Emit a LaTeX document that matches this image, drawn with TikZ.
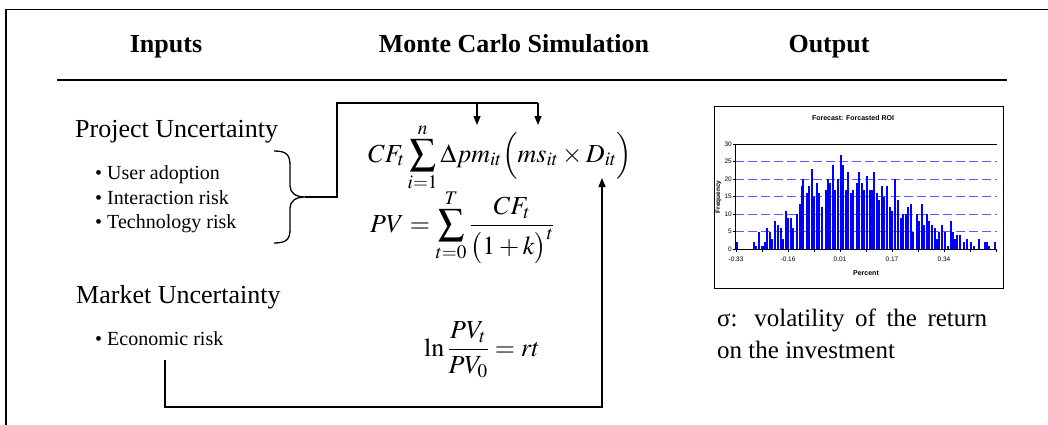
\documentclass[tikz,border=0pt]{standalone}
\usepackage{mathptmx}
\usepackage{fontspec}
\setmainfont{Liberation Serif}
\newfontfamily\arialf{Liberation Sans}
\usetikzlibrary{arrows.meta}
\definecolor{barblue}{RGB}{0,0,255}
\definecolor{gridblue}{RGB}{90,90,255}
\tikzset{
  frame/.style={line width=1.3pt},
  conn/.style={line width=1.4pt},
  arr/.style={conn, -{Triangle[length=9pt,width=7pt]}},
  lbl/.style={font=\fontsize{26}{30}\selectfont, inner sep=0pt},
  item/.style={font=\fontsize{20}{24}\selectfont, inner sep=0pt, anchor=base west},
  head/.style={font=\fontsize{26}{30}\selectfont\bfseries, inner sep=0pt, anchor=base},
  outtxt/.style={font=\fontsize{25}{32}\selectfont, inner sep=0pt, anchor=base west},
  chartlbl/.style={font=\arialf\fontsize{6.5}{7}\selectfont, inner sep=0pt},
  chartbold/.style={font=\arialf\bfseries\fontsize{7}{8}\selectfont, inner sep=0pt},
  grid/.style={gridblue, line width=0.9pt, dash pattern=on 9pt off 4pt},
}
\begin{document}
\begin{tikzpicture}[x=1pt,y=-1pt]
\useasboundingbox (0,0) rectangle (1048,425);
% frame
\draw[frame] (6,425) -- (6,9.5) -- (1048,9.5);
\draw[frame] (57,80) -- (1007,80);
% headers
\node[head] (hin) at (166,53) {Inputs};
\node[head] (hmc) at (514,53) {Monte Carlo Simulation};
\node[head] (hout) at (829,53) {Output};
% inputs
\node[lbl, anchor=base west] (pu) at (75,137) {Project Uncertainty};
\node[item] (i1) at (95,179) {•\ User adoption};
\node[item] (i2) at (95,204) {•\ Interaction risk};
\node[item] (i3) at (95,228) {•\ Technology risk};
\node[lbl, anchor=base west] (mu) at (76,303) {Market Uncertainty};
\node[item] (i4) at (95,345) {•\ Economic risk};
% brace
\draw[line width=1.3pt] (274,151) .. controls (287,151) and (290,155) .. (290,166)
  -- (290,186) .. controls (290,193) and (296,197) .. (305,197)
  .. controls (296,197) and (290,201) .. (290,208)
  -- (290,229) .. controls (290,239) and (287,243) .. (274,243);
% formulas
\node[lbl, anchor=base west] (f1) at (368,162) {$\displaystyle CF_t\sum_{i=1}^{n}\Delta pm_{it}\Bigl(ms_{it}\times D_{it}\Bigr)$};
\node[lbl, anchor=base west] (f2) at (370,232) {$\displaystyle PV=\sum_{t=0}^{T}\frac{CF_t}{\bigl(1+k\bigr)^t}$};
\node[lbl, anchor=base west] (f3) at (424,356) {$\displaystyle \ln\frac{PV_t}{PV_0}=rt$};
% connectors
\coordinate (bt) at (305,197);
\coordinate (c1) at (337,103);
\coordinate (a1) at (477,125);
\coordinate (a2) at (538,125);
\draw[conn] (bt) -| (c1) -- (c1 -| a2);
\draw[arr] (c1 -| a1) -- (a1);
\draw[arr] (c1 -| a2) -- (a2);
\coordinate (e1) at (165,360);
\coordinate (e2) at (165,407);
\coordinate (a3) at (602,178);
\draw[arr] (e1) -- (e2) -| (a3);
% chart
\draw[line width=1pt] (714,107) rectangle (1003,288);
\node[chartbold] (ct) at (853,118) {Forecast: Forcasted ROI};
\foreach \g in {1,...,5} \draw[grid] (735,{249-\g*17.45}) -- (997,{249-\g*17.45});
\foreach \zx/\h in {50/2,103/2,108/1,118/5,125/1,128/1,135/2,142/6,150/5,157/3,165/8,173/7,182/6,190/3,197/11,205/9,212/9,220/6,230/10,240/13,245/18,250/20,260/16,268/18,276/23,283/15,292/19,298/16,307/12,317/17,323/20,330/19,338/24,346/17,353/20,362/27,370/24,377/17,385/22,393/16,400/17,410/19,418/22,425/19,432/17,440/21,450/17,457/17,463/22,470/16,478/14,487/18,493/15,502/18,510/12,517/11,525/20,533/14,542/9,550/10,557/10,565/12,572/13,580/5,590/10,598/8,605/13,613/7,620/10,628/8,637/7,645/6,652/3,658/5,665/7,675/5,683/1,692/8,700/5,705/3,712/4,720/4,732/2,740/3,752/2,762/1,778/3,795/2,800/2,808/1,825/2}
  \fill[barblue] ({720+\zx/3-1.05},249) rectangle ++(2.1,{-\h*3.49});
\draw[line width=0.8pt] (735,144.3) -- (997,144.3);
\draw[line width=0.8pt] (735,144.3) -- (735,249) -- (997,249);
\foreach \k in {0,...,10} \draw[line width=0.6pt] ({736+\k*26},249) -- ++(0,3);
\foreach \g/\t in {0/0,1/5,2/10,3/15,4/20,5/25,6/30} {
  \draw[line width=0.6pt] (735,{249-\g*17.45}) -- ++(-2.5,0);
  \node[chartlbl, anchor=east] at (732,{249-\g*17.45}) {\t};
}
\foreach \k/\t in {0/-0.33,2/-0.16,4/0.01,6/0.17,8/0.34}
  \node[chartlbl] at ({736+\k*26},259.5) {\t};
\node[chartbold] (cx) at (866,273) {Percent};
\node[chartbold, rotate=90, font=\arialf\bfseries\fontsize{6.5}{7}\selectfont] (cy) at (718.5,197) {Frequency};
% output text
\node[outtxt] (o1) at (717,326) {\makebox[270pt][s]{σ: volatility of the return}};
\node[outtxt] (o2) at (717,358) {on the investment};
\end{tikzpicture}
\end{document}
